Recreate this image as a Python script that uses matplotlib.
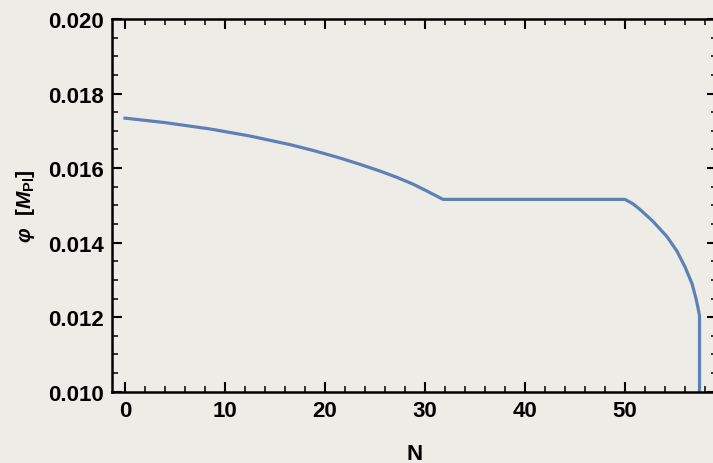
import matplotlib
matplotlib.use("Agg")
import matplotlib.pyplot as plt
from matplotlib.ticker import MultipleLocator

plt.rcParams['mathtext.fontset'] = 'custom'
plt.rcParams['mathtext.it'] = 'Liberation Sans:italic:bold'
plt.rcParams['mathtext.rm'] = 'Liberation Sans:bold'
plt.rcParams['mathtext.bf'] = 'Liberation Sans:bold'

# data
N = [0, 4, 8.5, 12.5, 16.5, 19, 21.5, 23.5, 25.5, 27.2, 28.8, 30.0, 30.8, 31.8,
     40, 50.0, 50.8, 51.5, 52.8, 54.2, 55.2, 56.0, 56.7, 57.1, 57.3, 57.45, 57.45]
phi = [0.01734, 0.01722, 0.01705, 0.01686, 0.01663, 0.01646, 0.01627, 0.01610,
       0.01592, 0.01575, 0.01557, 0.01541, 0.01530, 0.01516,
       0.01516, 0.01516, 0.01504, 0.01489, 0.01457, 0.01416, 0.01377, 0.01335,
       0.01290, 0.01250, 0.01225, 0.01204, 0.01000]

xticks = [0, 10, 20, 30, 40, 50]
yticks = [0.010, 0.012, 0.014, 0.016, 0.018, 0.020]
ytick_labels = ['0.010', '0.012', '0.014', '0.016', '0.018', '0.020']

bg = '#eeece7'
fig = plt.figure(figsize=(7.13, 4.64), dpi=100, facecolor=bg)
W, H = 713, 464
left, right, top, bottom = 112, 717, 20, 392.7
ax = fig.add_axes([left / W, 1 - bottom / H, (right - left) / W, (bottom - top) / H])
ax.set_facecolor(bg)

ax.plot(N, phi, color='#5e81b5', lw=2.3, solid_joinstyle='round', clip_on=True)

ax.set_xlim(-1.3, 59.2)
ax.set_ylim(0.010, 0.020)
ax.set_xticks(xticks)
ax.set_xticklabels([str(t) for t in xticks])
ax.set_yticks(yticks)
ax.set_yticklabels(ytick_labels)
ax.xaxis.set_minor_locator(MultipleLocator(2))
ax.yaxis.set_minor_locator(MultipleLocator(0.0005))

for s in ax.spines.values():
    s.set_linewidth(1.8)
    s.set_color('black')
ax.tick_params(which='both', direction='in', top=True, right=True, color='black')
ax.tick_params(which='major', length=7, width=1.5, labelsize=16, pad=6)
ax.tick_params(which='minor', length=4, width=1.1)
for lab in ax.get_xticklabels() + ax.get_yticklabels():
    lab.set_fontfamily('Liberation Sans')
    lab.set_fontweight('bold')

ax.set_xlabel('N', fontsize=16, fontweight='bold', family='Liberation Sans', labelpad=16)
ax.set_ylabel(r'$\varphi\ \ [M_{\mathrm{Pl}}]$', fontsize=15, labelpad=8)

fig.savefig('out.png', dpi=100, facecolor=bg)
